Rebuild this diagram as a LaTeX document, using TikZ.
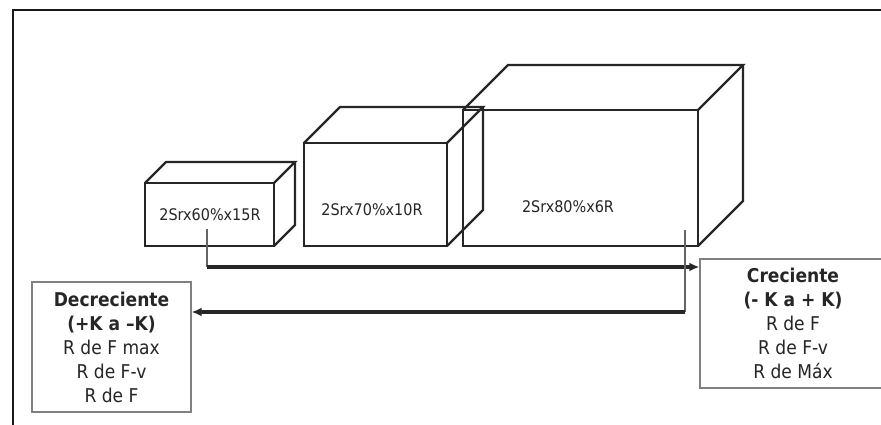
\documentclass[tikz,border=0pt]{standalone}
\usepackage{fontspec}
\setmainfont{DejaVu Sans Condensed}
\usetikzlibrary{arrows.meta,calc}
\tikzset{
  edge/.style={line width=2.3pt, line join=miter, black!85},
  cubelabel/.style={font=\fontsize{16}{18}\selectfont, text=black!85, inner sep=0pt},
  infobox/.style={draw=black!50, line width=1.4pt, align=center, inner sep=0pt,
    font=\fontsize{19}{24}\selectfont, text=black!85},
  thinlink/.style={line width=1.1pt, black!60},
  thicklink/.style={line width=3.4pt, black!85, -{Latex[length=10pt,width=9pt]}},
}
\newcommand{\cubebox}[5]{% x1 y1 x2 y2 (front, y down), depth
  \draw[edge] (#1,#2) rectangle (#3,#4);
  \draw[edge] (#1,#2) -- ++(#5,-#5) -- ($(#3,#2)+(#5,-#5)$) -- (#3,#2);
  \draw[edge] ($(#3,#2)+(#5,-#5)$) -- ($(#3,#4)+(#5,-#5)$) -- (#3,#4);
}
\begin{document}
\begin{tikzpicture}[x=1pt,y=-1pt]
\useasboundingbox (0,0) rectangle (881,425);
\fill[white] (0,0) rectangle (881,425);
% outer frame
\draw[line width=2.2pt, black!90] (881,10) -- (13,10) -- (13,425);
% cubes
\cubebox{145}{183}{274}{246}{21}
\cubebox{304}{143}{447}{246}{36}
\cubebox{463}{110}{698}{246}{45}
\node[cubelabel] (l1) at (210,215) {2Srx60\%x15R};
\node[cubelabel] (l2) at (372,210) {2Srx70\%x10R};
\node[cubelabel] (l3) at (568,207) {2Srx80\%x6R};
% boxes
\node[infobox, minimum width=159pt, minimum height=130pt] (dec) at (111.5,347)
  {\textbf{Decreciente}\\\textbf{(+K a –K)}\\R de F max\\R de F-v\\R de F};
\node[infobox, minimum width=186pt, minimum height=129pt] (cre) at (793,323.5)
  {\textbf{Creciente}\\\textbf{(- K a + K)}\\R de F\\R de F-v\\R de Máx};
% connectors
\coordinate (k1) at (207,267);
\coordinate (v2) at (685,230);
\coordinate (k2) at (685,312);
\draw[thinlink] (l1.south -| k1) ++(0,8) -- (k1);
\draw[thicklink] (k1) -- (k1 -| cre.west);
\draw[thinlink] (v2) -- (k2);
\draw[thicklink] (k2) -- (k2 -| dec.east);
\end{tikzpicture}
\end{document}
